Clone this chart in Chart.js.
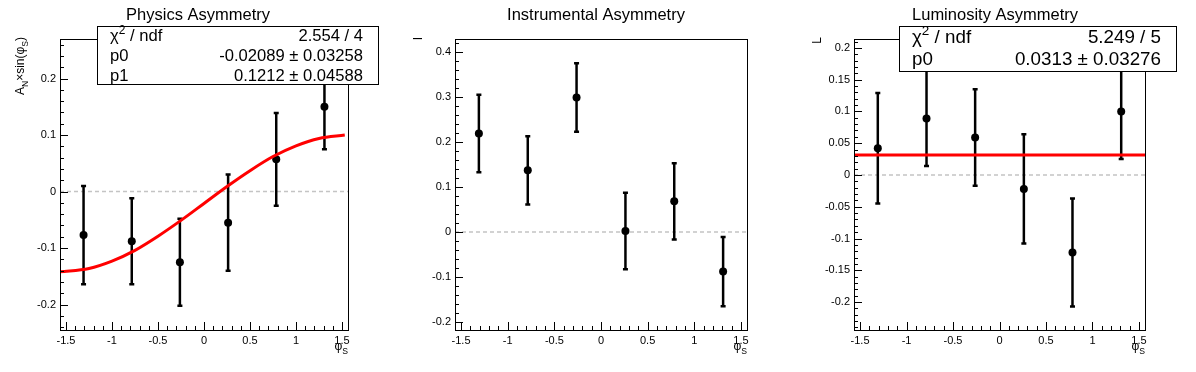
<!DOCTYPE html>
<html>
<head>
<meta charset="utf-8">
<script src="https://cdn.jsdelivr.net/npm/chart.js@4.4.0/dist/chart.umd.min.js"></script>
<style>
  body { margin: 0; background: #fff; width: 1196px; height: 372px; overflow: hidden; position: relative; }
  canvas { position: absolute; top: 0; }
</style>
</head>
<body>
<canvas id="g1" width="399" height="372" style="left:0px"></canvas>
<canvas id="g2" width="399" height="372" style="left:398px"></canvas>
<canvas id="g3" width="399" height="372" style="left:797px"></canvas>
<script>
// bin centres in phi_S
const phiS = [-1.309, -0.785, -0.262, 0.262, 0.785, 1.309]

const physVals = [-0.077, -0.088, -0.125, -0.055, 0.057, 0.150]
const physErrs = [0.087, 0.076, 0.077, 0.085, 0.082, 0.075]
const instVals = [0.219, 0.137, 0.299, 0.002, 0.068, -0.088]
const instErrs = [0.086, 0.076, 0.076, 0.085, 0.085, 0.077]
const lumiVals = [0.042, 0.089, 0.059, -0.022, -0.122, 0.100]
const lumiErrs = [0.087, 0.075, 0.076, 0.086, 0.085, 0.075]

// fit curves
const physFitX = [-1.565, -1.25, -1.0, -0.75, -0.5, -0.25, 0, 0.25, 0.5, 0.75, 1.0, 1.25, 1.53]
const physFitY = [-0.142, -0.136, -0.123, -0.104, -0.079, -0.051, -0.021, 0.009, 0.037, 0.062, 0.081, 0.094, 0.100]
const lumiFitX = [-1.565, 1.565]
const lumiFitY = [0.0313, 0.0313]

// tick labels
const xTicks = [-1.5, -1, -0.5, 0, 0.5, 1, 1.5]
const physYTicks = [-0.2, -0.1, 0, 0.1, 0.2]
const instYTicks = [-0.2, -0.1, 0, 0.1, 0.2, 0.3, 0.4]
const lumiYTicks = [-0.2, -0.15, -0.1, -0.05, 0, 0.05, 0.1, 0.15, 0.2]

// fit boxes
const physStats = [['χ', '2', ' / ndf', '2.554 / 4'], ['p0', '', '', '-0.02089 ± 0.03258'], ['p1', '', '', '0.1212 ± 0.04588']]
const lumiStats = [['χ', '2', ' / ndf', '5.249 / 5'], ['p0', '', '', '0.0313 ± 0.03276']]

const FONT = "'Liberation Sans', Arial, sans-serif"
Chart.defaults.font.family = FONT
Chart.defaults.color = '#000'

const fnt = (s) => s + 'px ' + FONT

function drawRich(ctx, parts, x, y, size, align) {
    let w = 0
    parts.forEach(([t, m]) => { ctx.font = fnt(m ? size * 0.72 : size); w += ctx.measureText(t).width })
    let cx = align === 'right' ? x - w : align === 'center' ? x - w / 2 : x
    parts.forEach(([t, m]) => {
        const fs = m ? size * 0.72 : size
        ctx.font = fnt(fs)
        const dy = m === 'sub' ? size * 0.32 : m === 'sup' ? -size * 0.4 : 0
        ctx.fillText(t, cx, y + dy)
        cx += ctx.measureText(t).width
    })
}

const makePanel = (id, cfg) => {
    const ctx = document.getElementById(id).getContext('2d')

    const rootPlugin = {
        id: 'rootStyle',
        beforeDatasetsDraw(chart) {
            const c = chart.ctx, a = chart.chartArea
            const xs = chart.scales.x, ys = chart.scales.y
            // dashed zero line
            c.save()
            c.strokeStyle = '#c4c4c4'
            c.lineWidth = 1.6
            c.setLineDash([4, 3])
            const y0 = ys.getPixelForValue(0)
            c.beginPath(); c.moveTo(a.left, y0); c.lineTo(a.right, y0); c.stroke()
            c.restore()
            // error bars
            c.save()
            c.strokeStyle = '#000'
            c.lineWidth = 2.5
            cfg.vals.forEach((v, i) => {
                const px = xs.getPixelForValue(phiS[i])
                const top = ys.getPixelForValue(v + cfg.errs[i])
                const bot = ys.getPixelForValue(v - cfg.errs[i])
                c.beginPath(); c.moveTo(px, top); c.lineTo(px, bot); c.stroke()
                c.beginPath()
                c.moveTo(px - 2.5, top); c.lineTo(px + 2.5, top)
                c.moveTo(px - 2.5, bot); c.lineTo(px + 2.5, bot)
                c.stroke()
            })
            c.restore()
        },
        afterDraw(chart) {
            const c = chart.ctx, a = chart.chartArea
            const xs = chart.scales.x, ys = chart.scales.y
            c.save()
            c.strokeStyle = '#000'
            c.lineWidth = 1
            c.strokeRect(Math.round(a.left) + 0.5, Math.round(a.top) + 0.5, Math.round(a.right - a.left), Math.round(a.bottom - a.top))
            // inner ticks, ROOT style
            c.beginPath()
            for (let k = Math.ceil(xs.min / 0.1 - 1e-6); k <= Math.floor(xs.max / 0.1 + 1e-6); k++) {
                const v = k * 0.1
                const major = Math.abs(v / 0.5 - Math.round(v / 0.5)) < 1e-6
                const px = Math.round(xs.getPixelForValue(v)) + 0.5
                c.moveTo(px, a.bottom); c.lineTo(px, a.bottom - (major ? 8 : 4))
            }
            const ym = cfg.yMinor, yM = cfg.yMajor
            for (let k = Math.ceil(ys.min / ym - 1e-6); k <= Math.floor(ys.max / ym + 1e-6); k++) {
                const v = k * ym
                const major = Math.abs(v / yM - Math.round(v / yM)) < 1e-6
                const py = Math.round(ys.getPixelForValue(v)) + 0.5
                c.moveTo(a.left, py); c.lineTo(a.left + (major ? 8 : 4), py)
            }
            c.stroke()

            c.fillStyle = '#000'
            c.textBaseline = 'alphabetic'
            c.textAlign = 'left'
            // title
            drawRich(c, [[cfg.title, '']], 198, 20, 16.5, 'center')
            // x title
            drawRich(c, [['φ', ''], ['S', 'sub']], a.right, 350, 12, 'right')
            // y title
            c.save()
            c.translate(24, 37)
            c.rotate(-Math.PI / 2)
            drawRich(c, cfg.yTitle, 0, 0, 12, 'right')
            c.restore()

            // fit box
            if (cfg.stats) {
                const b = cfg.box
                c.fillStyle = '#fff'
                c.fillRect(b.x, b.y, b.w, b.h)
                c.strokeRect(b.x + 0.5, b.y + 0.5, b.w, b.h)
                c.fillStyle = '#000'
                cfg.stats.forEach((row, i) => {
                    const by = b.y + b.first + i * b.step
                    drawRich(c, [[row[0], ''], [row[1], 'sup'], [row[2], '']], b.x + b.padL, by, b.font, 'left')
                    drawRich(c, [[row[3], '']], b.x + b.w - b.padR, by, b.font, 'right')
                })
            }
            c.restore()
        }
    }

    const datasets = [{
        type: 'scatter',
        data: phiS.map((x, i) => ({ x: x, y: cfg.vals[i] })),
        backgroundColor: '#000',
        borderWidth: 0,
        pointRadius: 4,
        order: 2
    }]
    if (cfg.fitX) {
        datasets.push({
            type: 'line',
            data: cfg.fitX.map((x, i) => ({ x: x, y: cfg.fitY[i] })),
            borderColor: '#ff0000',
            borderWidth: 3,
            pointRadius: 0,
            cubicInterpolationMode: 'monotone',
            order: 1
        })
    }

    return new Chart(ctx, {
        type: 'scatter',
        data: { datasets: datasets },
        options: {
            responsive: false,
            animation: false,
            devicePixelRatio: 1,
            layout: { padding: { top: 39, right: 399 - cfg.right, bottom: 0, left: 0 } },
            plugins: { legend: { display: false }, tooltip: { enabled: false }, title: { display: false } },
            scales: {
                x: {
                    type: 'linear',
                    min: -1.565,
                    max: 1.565,
                    grid: { display: false, drawTicks: false },
                    border: { display: false },
                    afterFit: (s) => { s.height = 42 },
                    afterBuildTicks: (s) => { s.ticks = xTicks.map(v => ({ value: v })) },
                    ticks: { autoSkip: false, maxRotation: 0, padding: 4, font: { size: 11 }, callback: (v) => String(v) }
                },
                y: {
                    type: 'linear',
                    min: cfg.yMin,
                    max: cfg.yMax,
                    grid: { display: false, drawTicks: false },
                    border: { display: false },
                    afterFit: (s) => { s.width = cfg.left },
                    afterBuildTicks: (s) => { s.ticks = cfg.yTicks.map(v => ({ value: v })) },
                    ticks: { autoSkip: false, padding: 4, font: { size: 11 }, callback: (v) => String(v) }
                }
            }
        },
        plugins: [rootPlugin]
    })
}

window.grafico1 = makePanel('g1', {
    title: 'Physics Asymmetry',
    yTitle: [['A', ''], ['N', 'sub'], ['×sin(φ', ''], ['S', 'sub'], [')', '']],
    vals: physVals, errs: physErrs,
    fitX: physFitX, fitY: physFitY,
    yTicks: physYTicks, yMin: -0.245, yMax: 0.27, yMajor: 0.1, yMinor: 0.02,
    left: 60, right: 348,
    stats: physStats,
    box: { x: 97, y: 26, w: 281, h: 58, first: 14.5, step: 20, padL: 13, padR: 15, font: 16.6 }
})

window.grafico2 = makePanel('g2', {
    title: 'Instrumental Asymmetry',
    yTitle: [['I', '']],
    vals: instVals, errs: instErrs,
    yTicks: instYTicks, yMin: -0.218, yMax: 0.429, yMajor: 0.1, yMinor: 0.02,
    left: 57, right: 349
})

window.grafico3 = makePanel('g3', {
    title: 'Luminosity Asymmetry',
    yTitle: [['L', '']],
    vals: lumiVals, errs: lumiErrs,
    fitX: lumiFitX, fitY: lumiFitY,
    yTicks: lumiYTicks, yMin: -0.244, yMax: 0.214, yMajor: 0.05, yMinor: 0.01,
    left: 57, right: 348,
    stats: lumiStats,
    box: { x: 102, y: 26, w: 277, h: 45, first: 17, step: 22, padL: 13, padR: 15, font: 18.8 }
})
</script>
</body>
</html>
